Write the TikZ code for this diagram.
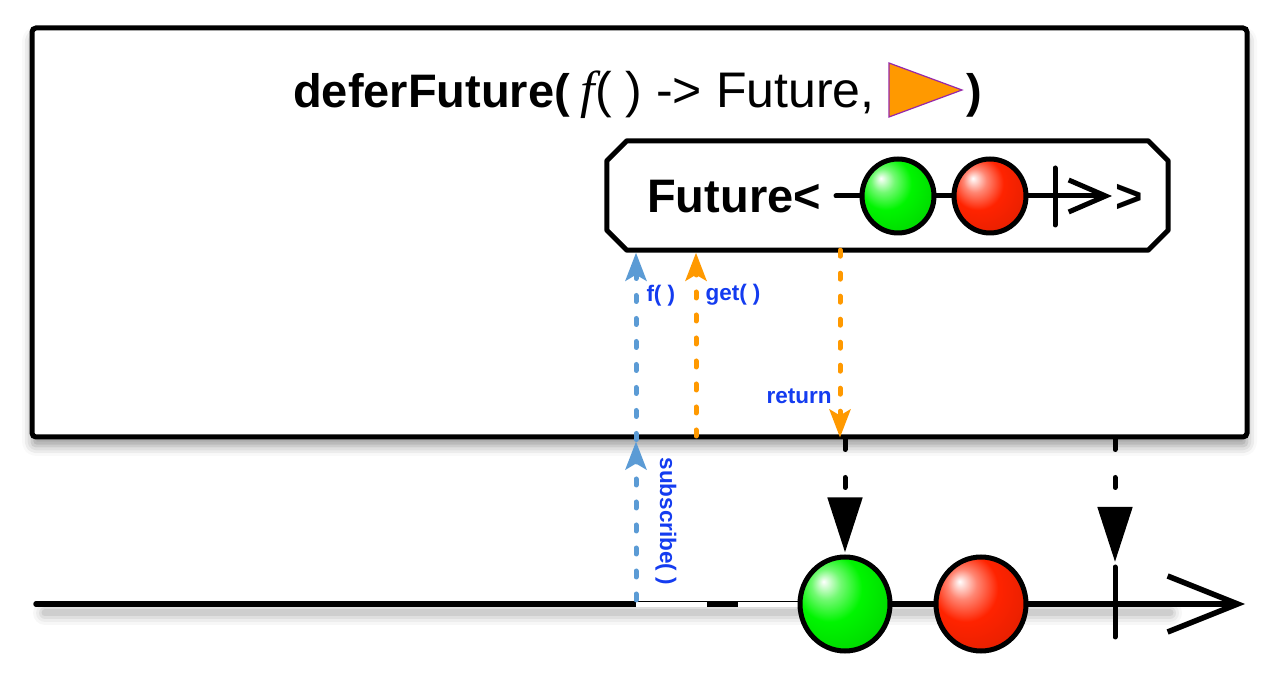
\documentclass[tikz,border=0pt]{standalone}
\usepackage{fontspec}
\setmainfont{Liberation Sans}
\newfontfamily\serifrm{Liberation Serif}
\usetikzlibrary{arrows.meta, positioning, calc, shapes.geometric, shadows.blur}

\definecolor{callblue}{RGB}{91,155,213}
\definecolor{callorange}{RGB}{255,153,0}
\definecolor{labelblue}{RGB}{20,60,240}
\definecolor{edgepurple}{RGB}{150,40,170}
\definecolor{marblegreen}{RGB}{0,245,0}
\definecolor{marblered}{RGB}{255,35,0}

\pgfdeclareradialshading{greenball}{\pgfpoint{-12bp}{12bp}}{color(0bp)=(white); color(8bp)=(marblegreen!55!white);
  color(18bp)=(marblegreen); color(34bp)=(marblegreen!88!black); color(48bp)=(marblegreen!60!black); color(62bp)=(marblegreen!45!black)}
\pgfdeclareradialshading{redball}{\pgfpoint{-12bp}{12bp}}{color(0bp)=(white); color(8bp)=(marblered!55!white);
  color(18bp)=(marblered); color(34bp)=(marblered!90!black); color(48bp)=(marblered!65!black); color(62bp)=(marblered!50!black)}

\tikzset{
  bigtext/.style={font=\fontsize{47}{50}\selectfont, inner sep=0pt},
  calllabel/.style={font=\fontsize{22.5}{24}\selectfont\bfseries, text=labelblue, inner sep=0pt},
  marble/.style={ellipse, draw=black, line width=5pt, inner sep=0pt},
  callarrow/.style={line width=5pt, line cap=round, dash pattern=on 6pt off 17pt,
    -{Stealth[length=28pt,width=21pt,inset=6pt]}},
  emitarrow/.style={line width=5pt, line cap=round, dash pattern=on 10pt off 28pt,
    -{Triangle[length=55pt,width=34pt]}},
}

\begin{document}
\begin{tikzpicture}[x=1pt,y=1pt]
\useasboundingbox (0,0) rectangle (1280,680);

\node[draw, line width=5pt, fill=white, rounded corners=4pt, minimum width=1215pt, minimum height=409pt,
  blur shadow={shadow xshift=0pt, shadow yshift=-9pt, shadow blur radius=10pt}] (defer) at (639.5,447.5) {};

\node[bigtext, anchor=base west, font=\fontsize{47}{50}\selectfont\bfseries] (title) at (293,572) {deferFuture(};
\node[bigtext, anchor=base west, font=\fontsize{52}{54}\selectfont\serifrm\itshape] (titlefn) at (580,572) {f};
\node[bigtext, anchor=base west, font=\fontsize{50}{54}\selectfont] (titleargs) at (595,572) {( ) -> Future,};
\filldraw[fill=callorange, draw=edgepurple, line width=1.2pt] (889,617) -- (889,563) -- (962,590) -- cycle;
\node[bigtext, anchor=base west, font=\fontsize{47}{50}\selectfont\bfseries] (titleclose) at (966,572) {)};

\node[minimum width=561pt, minimum height=109pt, inner sep=0pt] (future) at (887.5,484.5) {};
\filldraw[fill=white, line width=5pt, line join=round]
  ($(future.north west)+(20,0)$) -- ($(future.north east)+(-20,0)$) -- ($(future.north east)+(0,-20)$)
  -- ($(future.south east)+(0,20)$) -- ($(future.south east)+(-20,0)$) -- ($(future.south west)+(20,0)$)
  -- ($(future.south west)+(0,20)$) -- ($(future.north west)+(0,-20)$) -- cycle;
\node[bigtext, anchor=base west, font=\fontsize{47}{50}\selectfont\bfseries] (futlabel) at (647,467) {Future<};
\coordinate (instart) at (836,484);
\coordinate (inend) at (1112,484);
\draw[line width=5pt, line cap=round, -{Straight Barb[length=37pt,width=32pt]}] (instart) -- (inend);
\draw[line width=5pt, line cap=round] (1055,455) -- (1055,512);
\node[marble, shading=greenball, minimum width=72pt, minimum height=74pt] (ingreen) at (898,484) {};
\node[marble, shading=redball, minimum width=72pt, minimum height=74pt] (inred) at (990,484) {};
\node[bigtext, anchor=base west, font=\fontsize{47}{50}\selectfont\bfseries] (futclose) at (1115,467) {>};

\foreach \w/\o in {24/0.03,18/0.04,12/0.06,7/0.08}
  \draw[line width=\w pt, black, opacity=\o, line cap=round] (45,67) -- (1170,67);
\coordinate (tstart) at (36,76);
\coordinate (tend) at (1245,76);
\draw[line width=5.5pt, line cap=round, -{Straight Barb[length=70pt,width=56pt]}] (tstart) -- (tend);
\draw[white, line width=4.2pt] (636,75.5) -- (707,75.5) (738,75.5) -- (800,75.5);
\coordinate (ticktop) at (1115,113);
\draw[line width=5pt, line cap=round] (1115,43) -- (ticktop);
\node[marble, shading=greenball, minimum width=90pt, minimum height=94pt] (outgreen) at (845,76) {};
\node[marble, shading=redball, minimum width=90pt, minimum height=94pt] (outred) at (981,76) {};

\coordinate (subsrc) at (636,80);
\coordinate (getsrc) at (696,244);
\coordinate (retsrc) at (840,430);
\draw[callarrow, callblue, shorten >=2pt] (subsrc) -- node[calllabel, rotate=-90, anchor=south, inner ysep=17pt, pos=0.49] {subscribe( )} (subsrc |- defer.south);
\draw[callarrow, callblue, shorten >=2.5pt] (subsrc |- defer.south) -- node[calllabel, pos=0.76, anchor=west, xshift=8pt] {f( )} (subsrc |- future.south);
\draw[callarrow, callorange, shorten >=2.5pt] (getsrc) -- node[calllabel, pos=0.76, anchor=west, xshift=7pt] {get( )} (getsrc |- future.south);
\draw[callarrow, callorange, shorten >=2pt] (retsrc |- future.south) -- node[calllabel, pos=0.77, anchor=east, xshift=-6pt] {return} (retsrc |- defer.south);

\draw[emitarrow, shorten >=2pt] (defer.south -| outgreen) -- (outgreen.north);
\draw[emitarrow, shorten >=5pt] (defer.south -| ticktop) -- (ticktop);
\end{tikzpicture}
\end{document}
